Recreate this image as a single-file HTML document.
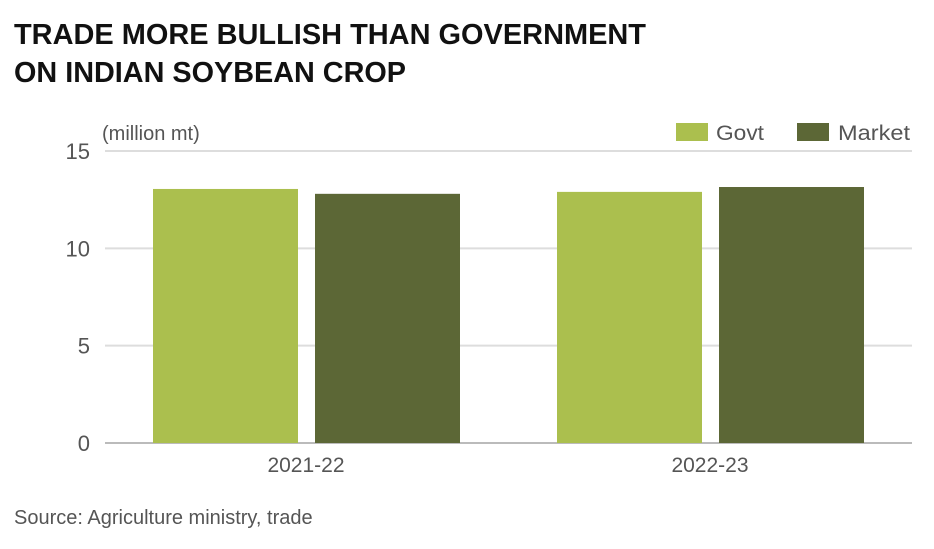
<!DOCTYPE html>
<html><head><meta charset="utf-8"><style>
body{margin:0;background:#fff;width:934px;height:544px;overflow:hidden;font-family:"Liberation Sans",sans-serif}
</style></head><body>
<svg width="934" height="544">
<text x="14" y="44" font-size="29" font-weight="bold" fill="#111" textLength="632" lengthAdjust="spacingAndGlyphs">TRADE MORE BULLISH THAN GOVERNMENT</text>
<text x="14" y="82" font-size="29" font-weight="bold" fill="#111" textLength="392" lengthAdjust="spacingAndGlyphs">ON INDIAN SOYBEAN CROP</text>
<text x="102" y="140" font-size="20" fill="#555">(million mt)</text>
<rect x="676" y="123" width="32" height="18" fill="#abbf4e"/>
<text x="716" y="140" font-size="21" fill="#555" textLength="48" lengthAdjust="spacingAndGlyphs">Govt</text>
<rect x="797" y="123" width="32" height="18" fill="#5c6736"/>
<text x="838" y="140" font-size="21" fill="#555" textLength="72" lengthAdjust="spacingAndGlyphs">Market</text>
<g id="grid"></g><g id="bars"></g><g id="xl"></g>
<text x="14" y="524" font-size="20" fill="#555">Source: Agriculture ministry, trade</text>
</svg>
<script>
const categories=["2021-22","2022-23"];
const govt=[13.05,12.9];
const market=[12.8,13.15];
const ticks=[0,5,10,15];
const NS="http://www.w3.org/2000/svg";
const y0=443,y15=151;
function y(v){return y0-(y0-y15)*v/15;}
function mk(t,a,p){const e=document.createElementNS(NS,t);for(const k in a)e.setAttribute(k,a[k]);p.appendChild(e);return e;}
const g=document.getElementById('grid');
ticks.forEach(t=>{
 const l=mk('line',{x1:105,x2:912,y1:y(t),y2:y(t),stroke:t===0?'#bbb':'#ddd','stroke-width':2},g);
 
 
 const tx=mk('text',{x:90,y:y(t)+8,'font-size':22,fill:'#555','text-anchor':'end'},g);tx.textContent=t;
 
 
});
const b=document.getElementById('bars'),xl=document.getElementById('xl');
categories.forEach((c,i)=>{
 const cx=153+i*404;
 const r1=mk('rect',{x:cx,y:y(govt[i]),width:145,height:y0-y(govt[i]),fill:'#abbf4e'},b);
 
 
 const r2=mk('rect',{x:cx+162,y:y(market[i]),width:145,height:y0-y(market[i]),fill:'#5c6736'},b);
 
 
 const t=mk('text',{x:cx+153,y:472,'font-size':21,fill:'#555','text-anchor':'middle'},xl);t.textContent=c;
 
 
});
</script>
</body></html>
